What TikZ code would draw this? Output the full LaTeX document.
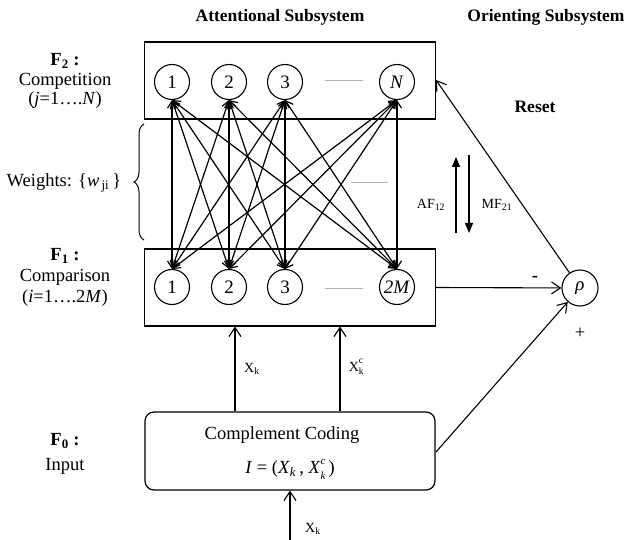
\documentclass[tikz,border=0pt]{standalone}
\usepackage{fontspec}
\setmainfont{Liberation Serif}
\usetikzlibrary{arrows.meta,decorations.pathreplacing}
% #1 size, #2 subscript, #3 superscript
\newcommand\mysubsup[3]{\makebox[0pt][l]{\raisebox{-0.6ex}{\fontsize{#1}{#1}\selectfont #2}}\raisebox{1.15ex}{\fontsize{#1}{#1}\selectfont #3}}
\begin{document}
\begin{tikzpicture}[x=1pt,y=-1pt,
  lbl/.style={font=\fontsize{18.5}{22}\selectfont, inner sep=0},
  ttl/.style={font=\fontsize{17.5}{20}\selectfont\bfseries, inner sep=0},
  small/.style={font=\fontsize{14}{16}\selectfont, inner sep=0},
  unit/.style={draw, circle, minimum size=35pt, inner sep=0, line width=1.1pt, font=\fontsize{19}{20}\selectfont},
  layer/.style={draw, line width=1.2pt, inner sep=0},
  web/.style={{Straight Barb[length=7pt,width=9pt]}-{Straight Barb[length=7pt,width=9pt]}, line width=1.2pt},
  arr/.style={-{Straight Barb[length=9pt,width=12pt]}, line width=1.1pt},
  farr/.style={-{Triangle[length=10pt,width=8pt]}, line width=1.1pt},
  gdash/.style={gray!60, line width=1pt}]
\useasboundingbox (0,0) rectangle (632,540);

% titles
\node[ttl] (tA) at (280,17) {Attentional Subsystem};
\node[ttl] (tO) at (546,17) {Orienting Subsystem};

% layer boxes
\node[layer, minimum width=291pt, minimum height=77pt] (f2) at (290,80.5) {};
\node[layer, minimum width=291pt, minimum height=77pt] (f1) at (290,287.5) {};
\node[layer, rounded corners=9pt, minimum width=290pt, minimum height=78pt] (f0) at (290,451) {};

% F2 units
\node[unit] (t1) at (172,82) {1};
\node[unit] (t2) at (229,82) {2};
\node[unit] (t3) at (285,82) {3};
\node[unit] (tN) at (397,82) {\textit{N}};
% F1 units
\node[unit] (b1) at (172,287) {1};
\node[unit] (b2) at (229,287) {2};
\node[unit] (b3) at (285,287) {3};
\node[unit] (b2M) at (397,287) {\textit{2M}};

% gray dashes
\draw[gdash] (325,81) -- (363,81);
\draw[gdash] (325,288) -- (363,288);
\draw[gdash] (351,183) -- (388,183);

% weights web
\foreach \a in {t1,t2,t3,tN}
  \foreach \b in {b1,b2,b3,b2M}
    \draw[web] (\a.south) -- (\b.north);

% left labels
\node[lbl] (f2a) at (65,61) {\textbf{F\textsubscript{2} :}};
\node[lbl] (f2b) at (65,81) {Competition};
\node[lbl] (f2c) at (65,100) {(\textit{j}=1….\textit{N})};
\node[lbl] (wts) at (64,183) {Weights: \{\textit{w}\textsubscript{\,ji}\,\}};
\draw[line width=1pt, decorate, decoration={brace, amplitude=10pt}] (144,240) -- (144,124);
\node[lbl] (f1a) at (65,256) {\textbf{F\textsubscript{1} :}};
\node[lbl] (f1b) at (65,277) {Comparison};
\node[lbl] (f1c) at (65,298) {(\textit{i}=1….2\textit{M})};
\node[lbl] (f0a) at (65,441) {\textbf{F\textsubscript{0} :}};
\node[lbl] (f0b) at (65,466) {Input};

% F0 contents
\node[lbl] (cc) at (282,435) {Complement Coding};
\node[lbl] (frm) at (290,469) {\textit{I} = (\textit{X}\textsubscript{\textit{k}}\,, \textit{X}\mysubsup{11}{\textit{k}}{\textit{c}}\,)};

% F0 -> F1
\coordinate (xa) at (235,0);
\coordinate (xb) at (340,0);
\draw[arr] (f0.north -| xa) -- (f1.south -| xa);
\draw[arr] (f0.north -| xb) -- (f1.south -| xb);
\node[small] (lxa) at (252,369) {X\textsubscript{k}};
\node[small] (lxb) at (356,367) {X\mysubsup{9.5}{k}{c}};

% input
\coordinate (inp) at (290,540);
\draw[arr] (inp) -- (f0.south);
\node[small] (lin) at (313,529) {X\textsubscript{k}};

% AF / MF arrows
\coordinate (af1) at (456,233);
\coordinate (af2) at (456,157);
\coordinate (mf1) at (469,155);
\coordinate (mf2) at (469,233);
\draw[farr] (af1) -- (af2);
\draw[farr] (mf1) -- (mf2);
\node[small] (laf) at (431,205) {AF\textsubscript{12}};
\node[small] (lmf) at (497,205) {MF\textsubscript{21}};

% orienting subsystem
\node[unit, minimum size=36pt] (rho) at (580,288) {\textit{ρ}};
\draw[arr] (f1.east) -- (rho);
\node[lbl] (minus) at (535,279) {\textbf{-}};
\node[lbl] (plus) at (580,333) {+};
\coordinate (c0) at (436,452);
\draw[arr] (c0) -- (rho);
\coordinate (resetend) at (436,80);
\draw[arr] (rho) -- (resetend);
\node[lbl, font=\fontsize{17.5}{20}\selectfont\bfseries] (reset) at (535,107) {Reset};
\end{tikzpicture}
\end{document}
